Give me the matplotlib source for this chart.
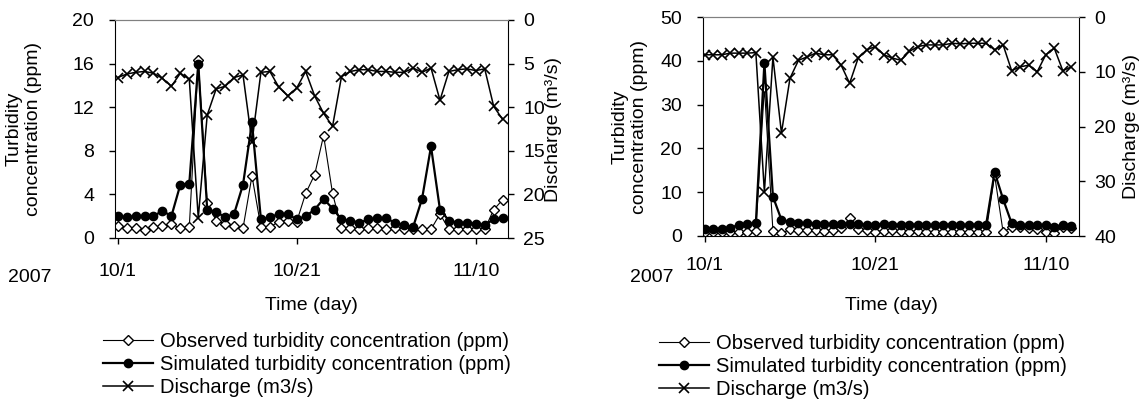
import numpy as np
import matplotlib
matplotlib.use('Agg')
import matplotlib.pyplot as plt

plt.rcParams['font.family'] = ['Liberation Sans', 'DejaVu Sans']

# day index from 2007-10-01
days = np.arange(44)
date_ticks = [0, 20, 40]
date_labels = ['10/1', '10/21', '11/10']

lab_obs = 'Observed turbidity concentration (ppm)'
lab_sim = 'Simulated turbidity concentration (ppm)'
lab_q = 'Discharge (m3/s)'

# left panel
obs_a = [1.1, 0.9, 0.9, 0.7, 1.0, 1.1, 1.3, 0.9, 1.0, 16.3, 3.2, 1.6, 1.3, 1.1, 0.9,
         5.7, 1.0, 1.0, 1.5, 1.6, 1.5, 4.1, 5.8, 9.4, 4.1, 0.9, 0.9, 0.8, 0.9, 0.9,
         0.8, 0.9, 0.8, 0.8, 0.8, 0.8, 2.2, 0.8, 0.8, 0.8, 0.8, 0.8, 2.6, 3.5]
sim_a = [2.0, 1.9, 2.0, 2.0, 2.0, 2.5, 2.0, 4.9, 5.0, 16.0, 2.6, 2.4, 1.9, 2.2, 4.9,
         10.6, 1.7, 1.9, 2.2, 2.2, 1.7, 2.0, 2.6, 3.6, 2.7, 1.7, 1.6, 1.4, 1.7, 1.8,
         1.8, 1.4, 1.2, 1.0, 3.6, 8.4, 2.6, 1.6, 1.4, 1.4, 1.3, 1.2, 1.7, 1.8]
q_a = [6.6, 6.2, 6.0, 5.9, 6.1, 6.7, 7.6, 6.1, 6.8, 22.7, 10.9, 7.9, 7.6, 6.6, 6.3,
       14.0, 6.0, 5.9, 7.7, 8.7, 7.8, 5.9, 8.7, 10.7, 12.2, 6.5, 5.9, 5.7, 5.7, 5.9,
       5.9, 6.0, 6.0, 5.5, 6.0, 5.5, 9.2, 5.9, 5.7, 5.6, 5.8, 5.6, 9.9, 11.4]

# right panel
obs_b = [0.8, 0.8, 0.9, 0.9, 1.0, 1.0, 1.1, 34.0, 1.2, 0.6, 1.5, 1.4, 1.3, 1.3, 1.2,
         1.3, 1.8, 4.0, 1.5, 1.3, 1.0, 1.2, 1.3, 1.2, 1.0, 1.1, 0.8, 0.8, 0.8, 0.8,
         0.8, 0.8, 0.8, 0.8, 13.9, 0.9, 2.0, 2.0, 1.8, 1.6, 0.9, 0.7, 2.0, 1.8]
sim_b = [1.6, 1.7, 1.7, 1.8, 2.6, 2.7, 3.0, 39.5, 9.0, 3.7, 3.2, 3.0, 2.9, 2.8, 2.8,
         2.7, 2.8, 2.7, 2.7, 2.6, 2.6, 2.7, 2.6, 2.6, 2.6, 2.6, 2.6, 2.5, 2.6, 2.6,
         2.5, 2.6, 2.6, 2.5, 14.6, 8.4, 2.9, 2.6, 2.5, 2.4, 2.6, 2.1, 2.6, 2.3]
q_b = [6.9, 6.9, 6.9, 6.6, 6.6, 6.6, 6.5, 32.0, 7.3, 21.2, 11.2, 7.9, 7.3, 6.6, 6.9,
       6.9, 8.8, 12.1, 7.5, 6.0, 5.4, 6.9, 7.5, 7.9, 6.3, 5.4, 5.1, 5.1, 5.1, 4.8,
       4.9, 4.8, 4.8, 4.8, 6.0, 5.1, 9.8, 9.1, 8.8, 10.0, 6.9, 5.7, 9.8, 9.1]

W, H = 1148, 403
fig = plt.figure(figsize=(W / 100, H / 100), dpi=100)


def px(x, y):
    return x / W, 1 - y / H


def draw_panel(box, obs, sim, q, ymax, ystep, qmax, qstep, xlim, xpad,
               ylab_x, qlab_x, year_x, leg_x, leg_y):
    l, t, r, b = box
    ax = fig.add_axes([l / W, 1 - b / H, (r - l) / W, (b - t) / H])
    h1, = ax.plot(days, obs, color='black', lw=0.8, marker='D', ms=5.5,
                  mfc='white', mec='black', mew=1.0, label=lab_obs)
    h2, = ax.plot(days, sim, color='black', lw=1.6, marker='o', ms=6,
                  mfc='black', mec='black', label=lab_sim)
    ax2 = ax.twinx()
    h3, = ax2.plot(days, q, color='black', lw=1.1, marker='x', ms=7.5,
                   mew=1.2, label=lab_q)

    ax.set_xlim(*xlim)
    ax.set_ylim(0, ymax)
    ax.set_yticks(np.arange(0, ymax + 1, ystep))
    ax.set_xticks(date_ticks, date_labels)
    ax2.set_ylim(qmax, 0)
    ax2.set_yticks(np.arange(0, qmax + 1, qstep))

    for a in (ax, ax2):
        a.spines['top'].set_color('#808080')
        a.spines['top'].set_linewidth(0.8)
    ax.spines['right'].set_visible(False)
    ax2.spines['left'].set_visible(False)
    ax2.spines['bottom'].set_visible(False)
    ax2.spines['right'].set_color('black')

    ax.tick_params(axis='y', direction='out', length=4, width=1, labelsize=14, pad=11)
    ax.tick_params(axis='x', direction='out', length=4, width=1, labelsize=14, pad=xpad)
    ax2.tick_params(axis='y', direction='out', length=4, width=1, labelsize=14, pad=7)

    cx = (l + r) / 2
    fig.text(*px(ylab_x, (t + b) / 2), 'Turbidity\nconcentration (ppm)', rotation=90,
             ha='center', va='center', fontsize=14, multialignment='center')
    fig.text(*px(qlab_x, (t + b) / 2), 'Discharge (m³/s)', rotation=90,
             ha='center', va='center', fontsize=14)
    fig.text(*px(cx, 306), 'Time (day)', ha='center', va='center', fontsize=14)
    fig.text(*px(year_x, 269), '2007', ha='left', va='top', fontsize=14)

    ax2.legend([h1, h2, h3], [lab_obs, lab_sim, lab_q], loc='upper left',
               bbox_to_anchor=px(leg_x, leg_y), bbox_transform=fig.transFigure,
               frameon=False, borderpad=0, borderaxespad=0, handlelength=2.5,
               handletextpad=0.35, labelspacing=0.2, numpoints=1, fontsize=14.5)


draw_panel((115, 20, 508, 238), obs_a, sim_a, q_a, 20, 4, 25, 5, (-0.3, 43.6), 14,
           24, 553, 8, 103, 332)
draw_panel((703, 17, 1079, 236), obs_b, sim_b, q_b, 50, 10, 40, 10, (-0.2, 43.9), 11,
           630, 1132, 630, 659, 334)

fig.savefig('out.png', dpi=100)
